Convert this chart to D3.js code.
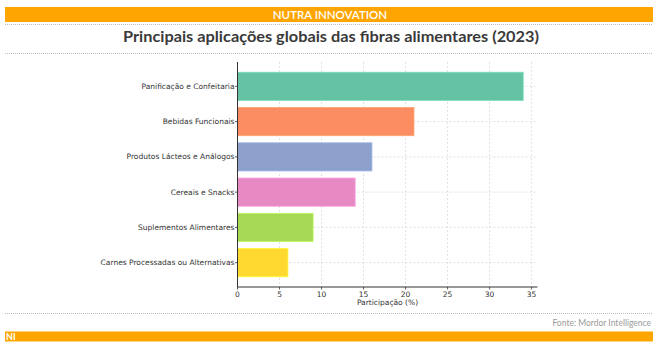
<!DOCTYPE html>
<html>
<head>
<meta charset="utf-8">
<script src="https://cdn.jsdelivr.net/npm/d3@7"></script>
<style>
  html, body { margin: 0; padding: 0; background: #fff; }
  svg { display: block; }
</style>
</head>
<body>
<svg id="chart" width="659" height="350"></svg>
<script>
// Application categories (top to bottom) and their share in percent
const categories = [
  "Panificação e Confeitaria",
  "Bebidas Funcionais",
  "Produtos Lácteos e Análogos",
  "Cereais e Snacks",
  "Suplementos Alimentares",
  "Carnes Processadas ou Alternativas"
];
const shares = [34, 21, 16, 14, 9, 6];
const barColors = ["#66c2a5", "#fc8d62", "#8da0cb", "#e78ac3", "#a6d854", "#ffd92f"];
const xTicks = [0, 5, 10, 15, 20, 25, 30, 35];

const headerText = "NUTRA INNOVATION";
const titleText = "Principais aplicações globais das fibras alimentares (2023)";
const axisLabel = "Participação (%)";
const sourceText = "Fonte: Mordor Intelligence";
const footerText = "NI";

const svg = d3.select("#chart");
const orange = "#ffa500";

// Page frame: header band, title, dotted rules, footer
svg.append("rect").attr("x", 5).attr("y", 7).attr("width", 648).attr("height", 15).attr("fill", orange);
svg.append("text").attr("x", 330).attr("y", 18.5).attr("text-anchor", "middle")
  .attr("font-family", "Lato, 'Open Sans', sans-serif").attr("font-size", 11.5).attr("font-weight", 600)
  .attr("fill", "#fff").text(headerText);

function dottedRule(y) {
  svg.append("line").attr("x1", 5).attr("x2", 653).attr("y1", y).attr("y2", y)
    .attr("stroke", "#bdbdbd").attr("stroke-width", 1).attr("stroke-dasharray", "1,1");
}
dottedRule(24.5);
dottedRule(53.5);
dottedRule(313.5);

svg.append("text").attr("x", 331).attr("y", 42).attr("text-anchor", "middle")
  .attr("font-family", "Lato, 'Open Sans', sans-serif").attr("font-size", 15.5).attr("font-weight", 700)
  .attr("fill", "#3a3a3a").attr("textLength", 416).attr("lengthAdjust", "spacingAndGlyphs")
  .text(titleText);

svg.append("text").attr("x", 651).attr("y", 325.5).attr("text-anchor", "end")
  .attr("font-family", "Lato, 'Open Sans', sans-serif").attr("font-size", 8.5)
  .attr("fill", "#9a9a9a").text(sourceText);

svg.append("rect").attr("x", 5).attr("y", 331.5).attr("width", 648).attr("height", 10).attr("fill", orange);
svg.append("text").attr("x", 6).attr("y", 340).attr("font-family", "Lato, sans-serif")
  .attr("font-size", 9).attr("font-weight", 700).attr("fill", "#fff").text(footerText);

// Bar chart area
const plot = { left: 237.5, right: 537.5, top: 62, bottom: 287 };
const x = d3.scaleLinear().domain([0, d3.max(shares) * 1.05]).range([plot.left, plot.right]);

// matplotlib-like categorical band: bars 0.8 wide with 5% margins
const n = categories.length;
const lo = -0.4 - 0.05 * (n - 1 + 0.8), hi = n - 1 + 0.4 + 0.05 * (n - 1 + 0.8);
const yIdx = d3.scaleLinear().domain([lo, hi]).range([plot.top, plot.bottom]);
const barH = yIdx(0.4) - yIdx(-0.4);

const g = svg.append("g");
const font = "'DejaVu Sans', sans-serif";
const fs = 7.5;

// grid
g.selectAll("line.vgrid").data(xTicks).join("line")
  .attr("x1", d => x(d)).attr("x2", d => x(d))
  .attr("y1", plot.top).attr("y2", plot.bottom)
  .attr("stroke", "#d9d9d9").attr("stroke-width", 0.8).attr("stroke-dasharray", "2,2");
g.selectAll("line.hgrid").data(categories).join("line")
  .attr("x1", plot.left).attr("x2", plot.right)
  .attr("y1", (d, i) => yIdx(i)).attr("y2", (d, i) => yIdx(i))
  .attr("stroke", "#d9d9d9").attr("stroke-width", 0.8).attr("stroke-dasharray", "2,2");

// bars
g.selectAll("rect.bar").data(shares).join("rect")
  .attr("x", x(0)).attr("y", (d, i) => yIdx(i) - barH / 2)
  .attr("width", d => x(d) - x(0)).attr("height", barH)
  .attr("fill", (d, i) => barColors[i])
  .attr("stroke", (d, i) => d3.color(barColors[i]).brighter(0.4)).attr("stroke-width", 0.8);

// spines
g.append("line").attr("x1", plot.left).attr("x2", plot.left).attr("y1", plot.top).attr("y2", plot.bottom)
  .attr("stroke", "#333").attr("stroke-width", 1);
g.append("line").attr("x1", plot.left).attr("x2", plot.right).attr("y1", plot.bottom).attr("y2", plot.bottom)
  .attr("stroke", "#333").attr("stroke-width", 1);

// y axis labels and ticks
g.selectAll("line.ytick").data(categories).join("line")
  .attr("x1", plot.left - 2.5).attr("x2", plot.left)
  .attr("y1", (d, i) => yIdx(i)).attr("y2", (d, i) => yIdx(i))
  .attr("stroke", "#333").attr("stroke-width", 0.8);
g.selectAll("text.ylab").data(categories).join("text")
  .attr("x", plot.left - 3).attr("y", (d, i) => yIdx(i)).attr("dy", "0.35em")
  .attr("text-anchor", "end").attr("font-family", font).attr("font-size", fs)
  .attr("fill", "#333").text(d => d);

// x axis ticks and labels
g.selectAll("line.xtick").data(xTicks).join("line")
  .attr("x1", d => x(d)).attr("x2", d => x(d))
  .attr("y1", plot.bottom).attr("y2", plot.bottom + 2.5)
  .attr("stroke", "#333").attr("stroke-width", 0.8);
g.selectAll("text.xlab").data(xTicks).join("text")
  .attr("x", d => x(d)).attr("y", plot.bottom + 9.5)
  .attr("text-anchor", "middle").attr("font-family", font).attr("font-size", fs)
  .attr("fill", "#333").text(d => d);

g.append("text").attr("x", (plot.left + plot.right) / 2).attr("y", 305)
  .attr("text-anchor", "middle").attr("font-family", font).attr("font-size", fs)
  .attr("fill", "#333").text(axisLabel);
</script>
</body>
</html>
